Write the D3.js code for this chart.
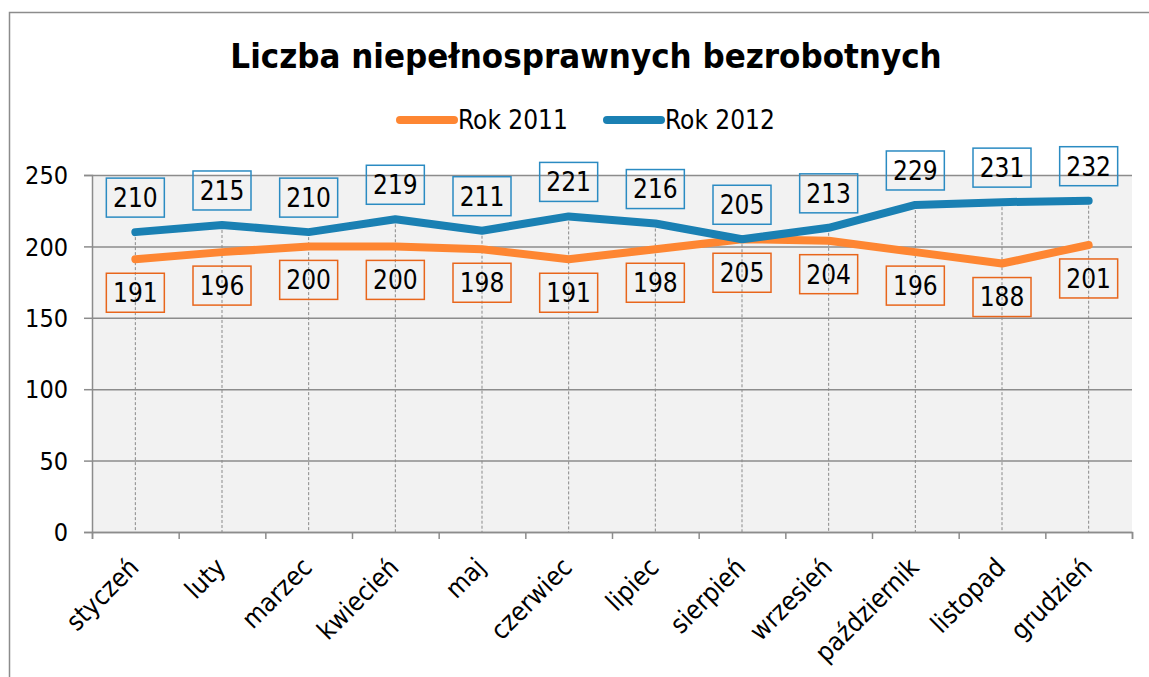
<!DOCTYPE html>
<html>
<head>
<meta charset="utf-8">
<script src="https://cdn.jsdelivr.net/npm/d3@7"></script>
<style>
  body { margin: 0; background: #fff; }
  svg text { font-family: "DejaVu Sans Condensed", "DejaVu Sans", sans-serif; fill: #000; }
</style>
</head>
<body>
<div id="chart"></div>
<script>
const months = ["styczeń", "luty", "marzec", "kwiecień", "maj", "czerwiec",
  "lipiec", "sierpień", "wrzesień", "październik", "listopad", "grudzień"];
const rok2011 = [191, 196, 200, 200, 198, 191, 198, 205, 204, 196, 188, 201];
const rok2012 = [210, 215, 210, 219, 211, 221, 216, 205, 213, 229, 231, 232];
const yTicks = [0, 50, 100, 150, 200, 250];

const width = 1149;
const height = 677;
const margin = { top: 175, left: 92, bottom: 145, right: 17 };

const blue = "#1a80b3";
const orange = "#fe8632";
const grid = "#8c8c8c";

const svg = d3.select("#chart").append("svg")
  .attr("width", width)
  .attr("height", height);

// outer frame (cut off at right and bottom)
svg.append("rect")
  .attr("x", 9.5).attr("y", 12.5)
  .attr("width", 1200).attr("height", 700)
  .attr("fill", "none").attr("stroke", grid).attr("stroke-width", 1.5);

const x = d3.scaleBand()
  .domain(months)
  .range([margin.left, width - margin.right]);
const xc = (d) => x(d) + x.bandwidth() / 2;

const xEdge = d3.scaleLinear()
  .domain([0, months.length])
  .range([margin.left, width - margin.right]);

const y = d3.scaleLinear()
  .domain([0, 250])
  .range([height - margin.bottom, margin.top]);

// plot background
svg.append("rect")
  .attr("x", margin.left).attr("y", y(250))
  .attr("width", width - margin.right - margin.left)
  .attr("height", y(0) - y(250))
  .attr("fill", "#f2f2f2");

// gridlines + y axis
const yAxis = svg.append("g")
  .attr("transform", `translate(${margin.left},0)`)
  .call(d3.axisLeft(y).tickValues(yTicks).tickSize(8).tickPadding(16));
yAxis.selectAll(".tick line").clone()
  .attr("x2", width - margin.right - margin.left);
yAxis.selectAll("line, path").attr("stroke", grid).attr("stroke-width", 1.5);
yAxis.selectAll("text").style("font-size", "25px").attr("dy", "0.35em");

// drop lines
svg.append("g").selectAll("line")
  .data(months)
  .join("line")
  .attr("x1", (d) => xc(d)).attr("x2", (d) => xc(d))
  .attr("y1", (d, i) => y(Math.max(rok2011[i], rok2012[i])))
  .attr("y2", y(0))
  .attr("stroke", "#8a8a8a")
  .attr("stroke-width", 1)
  .attr("stroke-dasharray", "3,2");

// x axis
const xAxis = svg.append("g")
  .attr("transform", `translate(0,${y(0)})`)
  .call(d3.axisBottom(xEdge).tickValues(d3.range(months.length + 1)).tickSize(7).tickFormat(""));
xAxis.selectAll("line, path").attr("stroke", grid).attr("stroke-width", 1.5);

svg.append("g").selectAll("text")
  .data(months)
  .join("text")
  .attr("text-anchor", "end")
  .attr("transform", (d) => `translate(${xc(d) + 5},${y(0) + 37}) rotate(-45)`)
  .style("font-size", "26px")
  .text((d) => d);

// lines
const line = (vals) => d3.line()
  .x((d, i) => xc(months[i]))
  .y((d) => y(d))(vals);

svg.append("path").attr("d", line(rok2011))
  .attr("fill", "none").attr("stroke", orange).attr("stroke-width", 8)
  .attr("stroke-linecap", "round").attr("stroke-linejoin", "round");
svg.append("path").attr("d", line(rok2012))
  .attr("fill", "none").attr("stroke", blue).attr("stroke-width", 8)
  .attr("stroke-linecap", "round").attr("stroke-linejoin", "round");

// data labels
const boxW = 58, boxH = 39;
function labels(vals, color, off) {
  const g = svg.append("g").selectAll("g")
    .data(vals)
    .join("g")
    .attr("transform", (d, i) => `translate(${xc(months[i])},${y(d) + off})`);
  g.append("rect")
    .attr("x", -boxW / 2).attr("y", -boxH / 2)
    .attr("width", boxW).attr("height", boxH)
    .attr("fill", "none").attr("stroke", color).attr("stroke-width", 1.5);
  g.append("text")
    .attr("text-anchor", "middle")
    .attr("dy", "0.36em")
    .style("font-size", "26px")
    .text((d) => d);
}
labels(rok2012, "#2b8bc2", -34.5);
labels(rok2011, "#e8661c", 33.5);

// title
svg.append("text")
  .attr("x", 586).attr("y", 68)
  .attr("text-anchor", "middle")
  .style("font-size", "34.5px")
  .style("font-weight", "bold")
  .text("Liczba niepełnosprawnych bezrobotnych");

// legend
const legend = [
  { name: "Rok 2011", color: orange, x: 400 },
  { name: "Rok 2012", color: blue, x: 607 }
];
const lg = svg.append("g").selectAll("g").data(legend).join("g")
  .attr("transform", (d) => `translate(${d.x},120)`);
lg.append("line")
  .attr("x1", 0).attr("x2", 54)
  .attr("stroke", (d) => d.color).attr("stroke-width", 8)
  .attr("stroke-linecap", "round");
lg.append("text")
  .attr("x", 58).attr("dy", "0.36em")
  .style("font-size", "26px")
  .text((d) => d.name);
</script>
</body>
</html>
